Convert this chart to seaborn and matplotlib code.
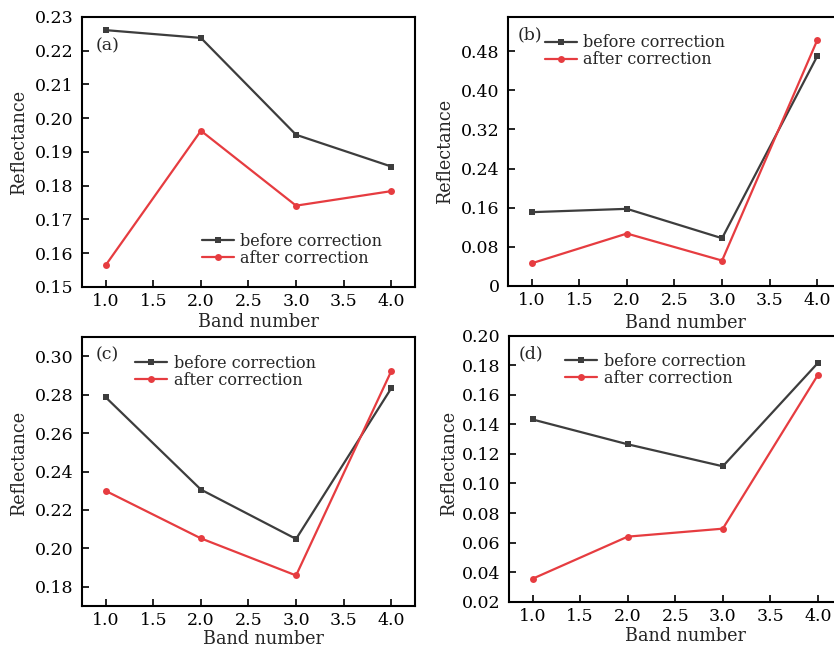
import pandas as pd
import seaborn as sns
import matplotlib.pyplot as plt

# Band numbers and reflectance values
bands = [1.0, 2.0, 3.0, 4.0]

before_a = [0.2261, 0.2238, 0.1951, 0.1857]
after_a = [0.1565, 0.1963, 0.1741, 0.1784]

before_b = [0.1509, 0.1577, 0.0976, 0.4698]
after_b = [0.0464, 0.1072, 0.0519, 0.5025]

before_c = [0.2786, 0.2306, 0.2049, 0.2833]
after_c = [0.2299, 0.2052, 0.1859, 0.2922]

before_d = [0.1433, 0.1265, 0.1116, 0.1816]
after_d = [0.0355, 0.0640, 0.0694, 0.1735]

series_names = ["before correction", "after correction"]
panel_labels = ["(a)", "(b)", "(c)", "(d)"]

y_limits = [(0.15, 0.23), (0, 0.55), (0.17, 0.31), (0.02, 0.20)]
y_ticks = [
    [0.15, 0.16, 0.17, 0.18, 0.19, 0.20, 0.21, 0.22, 0.23],
    [0, 0.08, 0.16, 0.24, 0.32, 0.40, 0.48],
    [0.18, 0.20, 0.22, 0.24, 0.26, 0.28, 0.30],
    [0.02, 0.04, 0.06, 0.08, 0.10, 0.12, 0.14, 0.16, 0.18, 0.20],
]
y_ticklabels = [
    ["0.15", "0.16", "0.17", "0.18", "0.19", "0.20", "0.21", "0.22", "0.23"],
    ["0", "0.08", "0.16", "0.24", "0.32", "0.40", "0.48"],
    ["0.18", "0.20", "0.22", "0.24", "0.26", "0.28", "0.30"],
    ["0.02", "0.04", "0.06", "0.08", "0.10", "0.12", "0.14", "0.16", "0.18", "0.20"],
]
x_ticks = [1.0, 1.5, 2.0, 2.5, 3.0, 3.5, 4.0]

sns.set_style("ticks")
plt.rcParams['font.family'] = ['DejaVu Serif']

fig = plt.figure(figsize=(8.34, 6.48), dpi=100)

# axes boxes in figure fractions (panel b is cut by the right edge)
boxes = [
    [0.0983, 0.5571, 0.3993, 0.4167],
    [0.6091, 0.5587, 0.3993, 0.4151],
    [0.0983, 0.0648, 0.3993, 0.4151],
    [0.6100, 0.0715, 0.3993, 0.4105],
]
# legend anchor (upper left of handle) in axes coords
legend_pos = [(0.36, 0.20), (0.11, 0.935), (0.16, 0.935), (0.17, 0.935)]
label_pos = [(0.04, 0.925), (0.03, 0.965), (0.04, 0.965), (0.03, 0.965)]
xlabel_pos = [(0.53, -0.13), (0.534, -0.138), (0.544, -0.121), (0.53, -0.13)]
ylabel_pos = [(-0.19, 0.535), (-0.19, 0.50), (-0.19, 0.53), (-0.18, 0.52)]

data = [(before_a, after_a), (before_b, after_b), (before_c, after_c), (before_d, after_d)]
palette = {"before correction": "#3d3d3d", "after correction": "#e63c40"}
markers = {"before correction": "s", "after correction": "o"}

for i in range(4):
    ax = fig.add_axes(boxes[i])
    before, after = data[i]
    df = pd.DataFrame({
        "Band number": bands + bands,
        "Reflectance": before + after,
        "series": [series_names[0]] * 4 + [series_names[1]] * 4,
    })
    sns.lineplot(data=df, x="Band number", y="Reflectance", hue="series",
                 style="series", markers=markers, dashes=False, palette=palette,
                 linewidth=1.6, markersize=5, markeredgewidth=0, ax=ax)

    ax.set_xlim(0.75, 4.25)
    ax.set_ylim(*y_limits[i])
    ax.set_xticks(x_ticks)
    ax.set_xticklabels([f"{t:.1f}" for t in x_ticks])
    ax.set_yticks(y_ticks[i])
    ax.set_yticklabels(y_ticklabels[i])
    ax.tick_params(direction='in', length=5, width=1.2, labelsize=12.5, pad=6,
                   colors='black')
    ax.tick_params(axis='x', pad=4.5)
    for sp in ax.spines.values():
        sp.set_visible(True)
        sp.set_linewidth(1.5)
        sp.set_color('black')

    ax.set_xlabel("Band number", fontsize=12.7)
    ax.set_ylabel("Reflectance", fontsize=12.7)
    ax.xaxis.set_label_coords(*xlabel_pos[i])
    ax.xaxis.label.set_verticalalignment('center')
    ax.yaxis.set_label_coords(*ylabel_pos[i])
    ax.yaxis.label.set_verticalalignment('center')

    ax.text(label_pos[i][0], label_pos[i][1], panel_labels[i], transform=ax.transAxes,
            fontsize=12.5, va='top', ha='left')

    handles, labels = ax.get_legend_handles_labels()
    ax.legend(handles, labels, loc='upper left', bbox_to_anchor=legend_pos[i],
              frameon=False, fontsize=11.5, handlelength=2.0, handletextpad=0.4,
              labelspacing=0.0, borderpad=0, borderaxespad=0)

fig.savefig("out.png", dpi=100)
